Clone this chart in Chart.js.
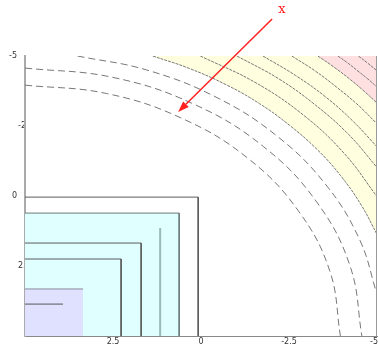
<!DOCTYPE html>
<html>
<head>
<meta charset="utf-8">
<script src="https://cdn.jsdelivr.net/npm/chart.js@4.4.0/dist/chart.umd.min.js"></script>
<style>
  body { margin: 0; background: #fff; }
  #wrap { width: 379px; height: 347px; }
</style>
</head>
<body>
<div id="wrap"><canvas id="myChart"></canvas></div>
<script>
// contour lines, [x, y] pairs
const squareOuter = [[5, 0.04], [0.08, 0.04], [0.08, 5]]
const squareCyan = [[5, 0.61], [0.62, 0.61], [0.62, 5]]
const lineTeal = [[1.16, 1.14], [1.16, 5]]
const square3 = [[5, 1.68], [1.70, 1.68], [1.70, 5]]
const square4 = [[5, 2.25], [2.27, 2.25], [2.27, 5]]
const squareLavender = [[5, 3.32], [3.35, 3.32], [3.35, 5]]
const lineShort = [[5, 3.86], [3.92, 3.86]]

const arcC = [[5, -3.96], [2.68, -3.66], [0.52, -2.76], [-1.34, -1.34], [-2.76, 0.52], [-3.66, 2.68], [-3.96, 5]]
const arcB = [[5, -4.57], [2.52, -4.24], [0.22, -3.29], [-1.77, -1.77], [-3.29, 0.22], [-4.24, 2.52], [-4.57, 5]]
const arcA = [[3.51, -5], [1.54, -4.5], [-0.43, -3.53], [-2.15, -2.15], [-3.53, -0.43], [-4.5, 1.54], [-5, 3.51]]
const arcYellow = [[1.37, -5], [0.34, -4.56], [-0.72, -3.97], [-1.66, -3.30], [-2.52, -2.52], [-3.30, -1.66], [-3.97, -0.72], [-4.56, 0.34], [-5, 1.37]]
const arc5 = [[0.02, -5], [-1.52, -4.07], [-2.90, -2.90], [-4.07, -1.52], [-5, 0.02]]
const arc6 = [[-1.02, -5], [-2.19, -4.20], [-3.25, -3.25], [-4.20, -2.19], [-5, -1.02]]
const arc7 = [[-1.76, -5], [-2.68, -4.31], [-3.54, -3.54], [-4.31, -2.68], [-5, -1.76]]
const arc8 = [[-2.58, -5], [-3.25, -4.46], [-3.87, -3.87], [-4.46, -3.25], [-5, -2.58]]
const arcPink = [[-3.32, -5], [-3.77, -4.61], [-4.20, -4.20], [-4.61, -3.77], [-5, -3.32]]
const arc10 = [[-3.89, -5], [-4.18, -4.74], [-4.46, -4.46], [-4.74, -4.18], [-5, -3.89]]
const arc11 = [[-4.47, -5], [-4.74, -4.74], [-5, -4.47]]

const xTickValues = [2.5, 0, -2.5, -5]
const xTickLabels = ['2.5', '0', '-2.5', '-5']
const yTickValues = [-5, -2.5, 0, 2.5]
const yTickLabels = ['-5', '-2.5', '0', '2.5']

const arrowFrom = [-2.02, -6.32]
const arrowTo = [0.65, -3.0]
const arrowText = 'x'
const arrowTextAt = [-2.3, -6.65]

const pts = arr => arr.map(p => ({ x: p[0], y: p[1] }))

function contour(arr, color, dash, extra) {
  return Object.assign({
    data: pts(arr),
    borderColor: color,
    borderWidth: 1,
    borderDash: dash || [],
    pointRadius: 0,
    tension: 0,
    fill: false
  }, extra || {})
}

const arcGray = '#777'
const sqGray = '#5a5a5a'

const datasets = [
  // fills: first dataset ends up on top
  contour(arcPink, arcGray, [3, 1], { tension: 0.4, fill: { value: -5 }, backgroundColor: '#ffe0e0' }),
  contour(arcYellow, arcGray, [3, 1], { tension: 0.4, fill: { value: -5 }, backgroundColor: '#ffffe0' }),
  contour(squareLavender, '#8c8c9c', [], { fill: { value: 5 }, backgroundColor: '#e0e0ff',
    segment: { borderColor: c => c.p0DataIndex === 1 ? 'rgba(0,0,0,0)' : undefined } }),
  contour(squareCyan, '#6a7a7a', [], { fill: { value: 5 }, backgroundColor: '#e0ffff' }),
  contour(squareOuter, sqGray),
  contour(square3, sqGray),
  contour(square4, sqGray),
  contour(lineShort, sqGray),
  contour(lineTeal, '#9ab8b8', [], { borderWidth: 2 }),
  contour(arcC, arcGray, [7, 4], { tension: 0.4 }),
  contour(arcB, arcGray, [7, 4], { tension: 0.4 }),
  contour(arcA, arcGray, [7, 4], { tension: 0.4 }),
  contour(arc5, arcGray, [3, 1], { tension: 0.4 }),
  contour(arc6, arcGray, [3, 1], { tension: 0.4 }),
  contour(arc7, arcGray, [3, 1], { tension: 0.4 }),
  contour(arc8, arcGray, [3, 1], { tension: 0.4 }),
  contour(arc10, arcGray, [3, 1], { tension: 0.4 }),
  contour(arc11, arcGray, [3, 1], { tension: 0.4 })
]

const extras = {
  id: 'extras',
  afterDraw(chart) {
    const { ctx, chartArea } = chart
    const sx = chart.scales.x
    const sy = chart.scales.y
    ctx.save()
    // right frame
    ctx.strokeStyle = '#999'
    ctx.lineWidth = 1
    ctx.beginPath()
    ctx.moveTo(chartArea.right - 0.5, chartArea.top)
    ctx.lineTo(chartArea.right - 0.5, chartArea.bottom)
    ctx.stroke()

    // tick labels
    ctx.font = '8px "DejaVu Sans"'
    ctx.fillStyle = '#333'
    ctx.textBaseline = 'middle'
    ctx.textAlign = 'center'
    xTickValues.forEach((v, i) => {
      let px = sx.getPixelForValue(v)
      const w = ctx.measureText(xTickLabels[i]).width
      px = Math.min(px, chart.width - w / 2 - 1)
      ctx.fillText(xTickLabels[i], px, chartArea.bottom + 6)
    })
    // longer labels are cut off by the axis in the reference
    ctx.save()
    ctx.beginPath()
    ctx.rect(0, 0, chartArea.left - 1, chart.height)
    ctx.clip()
    yTickValues.forEach((v, i) => {
      const py = sy.getPixelForValue(v)
      const t = yTickLabels[i]
      if (t.indexOf('.') >= 0) {
        ctx.textAlign = 'left'
        ctx.fillText(t, 18, py)
      } else {
        ctx.textAlign = 'right'
        ctx.fillText(t, 17, py)
      }
    })
    ctx.restore()

    // red arrow
    const x0 = sx.getPixelForValue(arrowFrom[0])
    const y0 = sy.getPixelForValue(arrowFrom[1])
    const x1 = sx.getPixelForValue(arrowTo[0])
    const y1 = sy.getPixelForValue(arrowTo[1])
    const ang = Math.atan2(y1 - y0, x1 - x0)
    const len = 11
    const half = 4
    const bx = x1 - len * Math.cos(ang)
    const by = y1 - len * Math.sin(ang)
    ctx.strokeStyle = '#ff2020'
    ctx.fillStyle = '#ff2020'
    ctx.lineWidth = 1.5
    ctx.beginPath()
    ctx.moveTo(x0, y0)
    ctx.lineTo(bx, by)
    ctx.stroke()
    ctx.beginPath()
    ctx.moveTo(x1, y1)
    ctx.lineTo(bx + half * Math.sin(ang), by - half * Math.cos(ang))
    ctx.lineTo(bx - half * Math.sin(ang), by + half * Math.cos(ang))
    ctx.closePath()
    ctx.fill()

    ctx.font = '13px "DejaVu Serif"'
    ctx.textAlign = 'center'
    ctx.fillText(arrowText, sx.getPixelForValue(arrowTextAt[0]), sy.getPixelForValue(arrowTextAt[1]))
    ctx.restore()
  }
}

new Chart(document.getElementById('myChart'), {
  type: 'line',
  data: { datasets },
  options: {
    responsive: true,
    maintainAspectRatio: false,
    animation: false,
    layout: { padding: { top: 56, right: 2, left: 0, bottom: 0 } },
    plugins: {
      legend: { display: false },
      tooltip: { enabled: false },
      // all fills first, then every line on top of them
      filler: { drawTime: 'beforeDatasetsDraw' }
    },
    scales: {
      x: {
        type: 'linear', min: -5, max: 5, reverse: true,
        grid: { display: false },
        ticks: { display: false },
        border: { display: true, color: '#888', width: 1 },
        afterFit(scale) { scale.height = 11 }
      },
      y: {
        type: 'linear', min: -5, max: 5, reverse: true,
        grid: { display: false },
        ticks: { display: false },
        border: { display: true, color: '#aaa', width: 2 },
        afterFit(scale) { scale.width = 25 }
      }
    }
  },
  plugins: [extras]
})
</script>
</body>
</html>
